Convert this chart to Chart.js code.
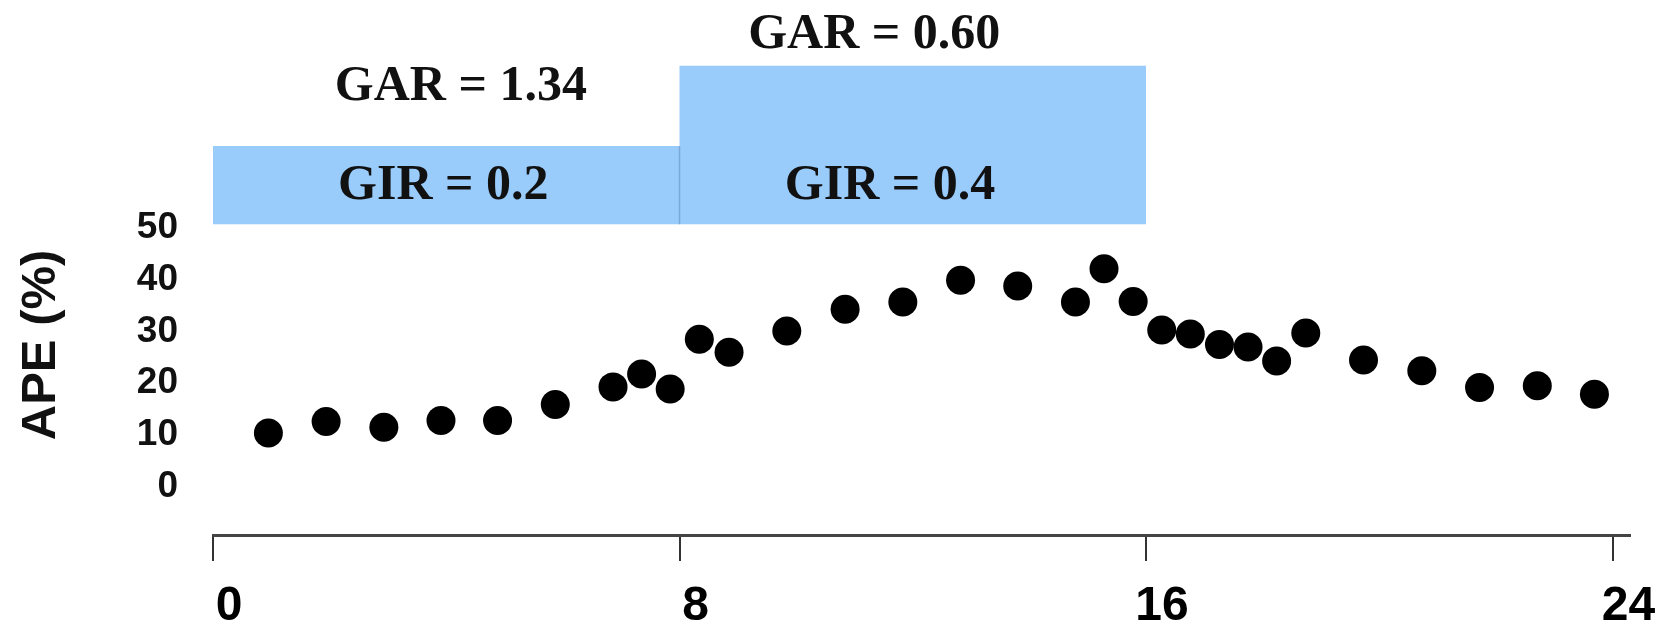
<!DOCTYPE html>
<html>
<head>
<meta charset="utf-8">
<script src="https://cdn.jsdelivr.net/npm/chart.js@4.4.1/dist/chart.umd.min.js"></script>
<style>
  html, body { margin: 0; padding: 0; background: #fff; }
  #wrap { width: 1671px; height: 628px; }
</style>
</head>
<body>
<div id="wrap"><canvas id="apeChart"></canvas></div>
<script>
// sampling times (h) and APE (%)
const hours = [0.95, 1.94, 2.93, 3.91, 4.88, 5.87, 6.86, 7.35, 7.84, 8.34,
               8.85, 9.84, 10.84, 11.83, 12.82, 13.80, 14.79, 15.28, 15.78, 16.27,
               16.76, 17.26, 17.75, 18.24, 18.74, 19.73, 20.73, 21.72, 22.71, 23.69];
const ape = [10.4, 12.6, 11.5, 12.8, 12.8, 15.9, 19.3, 21.8, 18.9, 28.5,
             26.0, 30.1, 34.3, 35.7, 39.9, 38.8, 35.7, 42.1, 35.8, 30.3,
             29.5, 27.5, 27.0, 24.3, 29.7, 24.5, 22.4, 19.2, 19.5, 17.9];
const xTicks = [0, 8, 16, 24];
const yTicks = [0, 10, 20, 30, 40, 50];

// infusion periods (blue blocks above the plot)
const periodStart = [0, 8];
const periodEnd = [8, 16];
const periodTop = [65.8, 81.3];
const periodBase = 50.7;
const girLabels = ["GIR = 0.2", "GIR = 0.4"];
const garLabels = ["GAR = 1.34", "GAR = 0.60"];

const blockPoints = [];
periodStart.forEach((s, i) => {
    blockPoints.push({ x: s, y: periodTop[i] });
    blockPoints.push({ x: periodEnd[i], y: periodTop[i] });
});

// texts on the blocks, in data units
const labelPlugin = {
    id: "periodLabels",
    afterDatasetsDraw(chart) {
        const { ctx, scales: { x, y } } = chart;
        const garPos = [[4.25, 74.7], [11.34, 84.7]];
        const girPos = [[3.95, 55.6], [11.61, 55.6]];
        ctx.save();
        ctx.fillStyle = "#111";
        ctx.textAlign = "center";
        ctx.textBaseline = "alphabetic";
        ctx.font = "bold 50px 'Liberation Serif'";
        garLabels.forEach((t, i) => {
            ctx.fillText(t, x.getPixelForValue(garPos[i][0]), y.getPixelForValue(garPos[i][1]));
        });
        girLabels.forEach((t, i) => {
            ctx.fillText(t, x.getPixelForValue(girPos[i][0]), y.getPixelForValue(girPos[i][1]));
        });
        ctx.restore();

        // y title
        ctx.save();
        ctx.translate(55, y.getPixelForValue(27.4));
        ctx.rotate(-Math.PI / 2);
        ctx.fillStyle = "#111";
        ctx.textAlign = "center";
        ctx.textBaseline = "alphabetic";
        ctx.font = "bold 49px 'Liberation Sans'";
        ctx.fillText("APE (%)", 0, 0);
        ctx.restore();
    }
};

document.addEventListener("DOMContentLoaded", () => {
    const ctx = document.getElementById("apeChart").getContext("2d");

    new Chart(ctx, {
        type: "scatter",
        data: {
            datasets: [
                {
                    label: "APE",
                    data: hours.map((h, i) => ({ x: h, y: ape[i] })),
                    backgroundColor: "#000",
                    borderWidth: 0,
                    pointRadius: 14.5,
                    pointHoverRadius: 14.5,
                    order: 1,
                },
                {
                    type: "line",
                    label: "periods",
                    data: blockPoints,
                    borderWidth: 0,
                    pointRadius: 0,
                    backgroundColor: "#99cbfb",
                    fill: { value: periodBase },
                    order: 3,
                },
                {
                    type: "line",
                    label: "divider",
                    data: [{ x: periodEnd[0], y: periodBase }, { x: periodEnd[0], y: periodTop[0] }],
                    borderColor: "#7aa9d8",
                    borderWidth: 1.5,
                    pointRadius: 0,
                    fill: false,
                    order: 2,
                },
            ],
        },
        options: {
            responsive: true,
            maintainAspectRatio: false,
            animation: false,
            events: [],
            layout: { autoPadding: false, padding: { left: 0, right: 41, top: 0, bottom: 0 } },
            plugins: {
                legend: { display: false },
                tooltip: { enabled: false },
            },
            scales: {
                x: {
                    type: "linear",
                    min: 0,
                    max: 24.3,
                    afterBuildTicks: (s) => { s.ticks = xTicks.map((v) => ({ value: v })); },
                    afterFit: (s) => { s.height = 93; s.paddingLeft = 0; s.paddingRight = 0; },
                    grid: { drawOnChartArea: false, tickLength: 26, color: "#333", lineWidth: 2 },
                    border: { color: "#444", width: 3 },
                    ticks: {
                        color: "#000",
                        font: { family: "'Liberation Sans'", size: 48, weight: "bold" },
                        padding: 17,
                        labelOffset: 16,
                        maxRotation: 0,
                        autoSkip: false,
                    },
                },
                y: {
                    min: -9.3,
                    max: 94.0,
                    afterBuildTicks: (s) => { s.ticks = yTicks.map((v) => ({ value: v })); },
                    afterFit: (s) => { s.width = 213; s.paddingTop = 0; s.paddingBottom = 0; },
                    grid: { display: false, drawTicks: false },
                    border: { display: false },
                    ticks: {
                        color: "#111",
                        font: { family: "'Liberation Sans'", size: 37, weight: "bold" },
                        padding: 35,
                    },
                },
            },
        },
        plugins: [labelPlugin],
    });
});
</script>
</body>
</html>
